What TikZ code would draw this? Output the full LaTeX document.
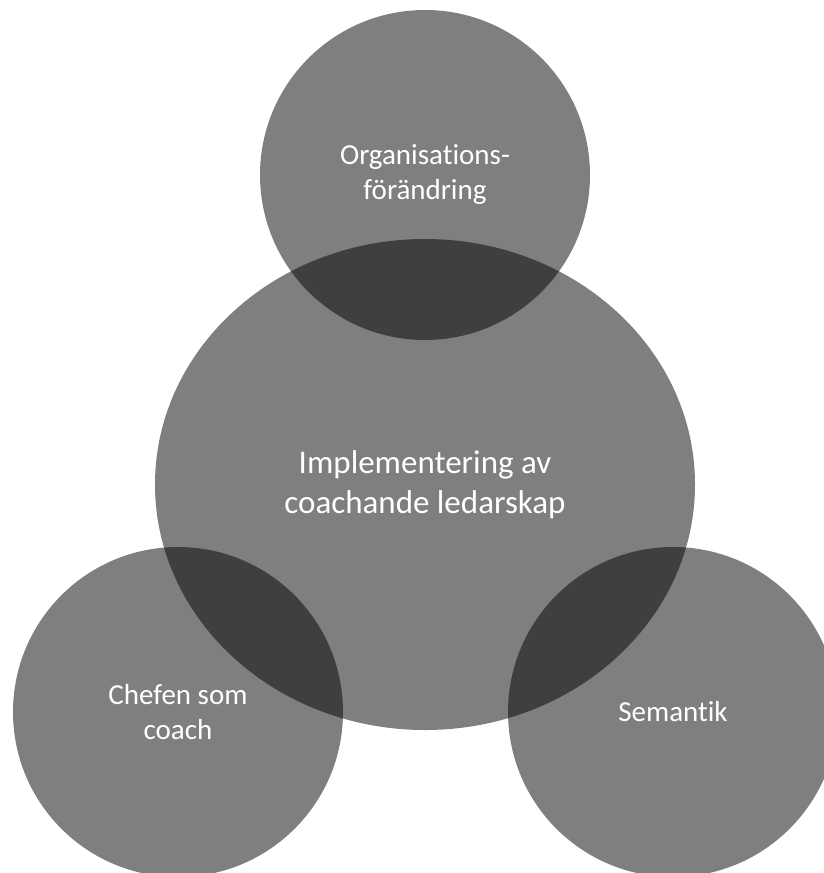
\documentclass[tikz,border=0pt]{standalone}
\usepackage{fontspec}
\setmainfont{Carlito}[Ligatures=NoCommon]
\usetikzlibrary{shapes.geometric}
\begin{document}
\begin{tikzpicture}[x=1pt,y=-1pt,
  blob/.style={fill=black, fill opacity=0.5, draw=none, inner sep=0pt,
    text=white, text opacity=1, align=center},
  smalltxt/.style={font=\fontsize{29}{35}\selectfont},
  bigtxt/.style={font=\fontsize{33}{40}\selectfont}]
\useasboundingbox (0,0) rectangle (824,873);
\node[blob, circle, minimum size=330pt, smalltxt] (org) at (425,175) {Organisations-\\förändring};
\node[blob, ellipse, minimum width=540pt, minimum height=491pt, bigtxt] (impl) at (425,484.5) {Implementering av\\coachande ledarskap};
\node[blob, circle, minimum size=330pt, smalltxt] (chef) at (178,712) {Chefen som\\coach};
\node[blob, circle, minimum size=330pt, smalltxt] (sem) at (673,712) {Semantik};
\end{tikzpicture}
\end{document}
